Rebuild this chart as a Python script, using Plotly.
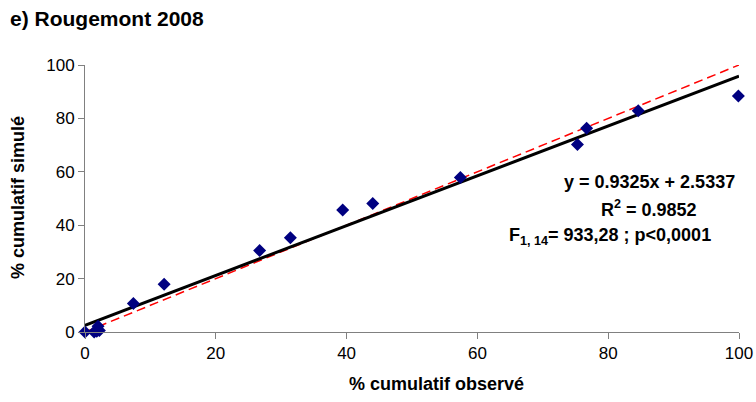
import plotly.graph_objects as go

# Observed vs simulated cumulative percentages
observe = [0, 1.4, 1.8, 2.0, 2.2, 7.4, 12.1, 26.7, 31.4, 39.4, 44.0, 57.4, 75.3, 76.7, 84.6, 99.9]
simule = [0, 0.0, 0.3, 2.2, 0.6, 10.7, 17.9, 30.5, 35.3, 45.7, 48.1, 57.9, 70.2, 76.3, 82.9, 88.4]

# Regression fit and 1:1 reference
pente = 0.9325
ordonnee = 2.5337
x_ligne = [0, 100]

tick_vals = [0, 20, 40, 60, 80, 100]

FONT = "Liberation Sans, Arial"

fig = go.Figure()

fig.add_trace(go.Scatter(
    x=x_ligne, y=x_ligne, mode="lines",
    line=dict(color="#ff0000", width=1.5, dash="9px,5px"),
    hoverinfo="skip", showlegend=False,
))
fig.add_trace(go.Scatter(
    x=x_ligne, y=[pente * v + ordonnee for v in x_ligne], mode="lines",
    line=dict(color="#000000", width=3),
    hoverinfo="skip", showlegend=False,
))
fig.add_trace(go.Scatter(
    x=observe, y=simule, mode="markers", cliponaxis=False,
    marker=dict(symbol="diamond", color="#000080", size=10),
    showlegend=False,
))

axis_common = dict(
    range=[0, 100], tickvals=tick_vals, showgrid=False, zeroline=False,
    showline=True, linecolor="#808080", linewidth=1, automargin=False,
    ticks="outside", ticklen=6, tickcolor="#808080",
    tickfont=dict(family=FONT, size=17, color="#000000"),
)

fig.update_layout(
    width=756, height=402,
    margin=dict(l=85, r=17, t=65, b=70),
    paper_bgcolor="white", plot_bgcolor="white",
    xaxis=dict(**axis_common),
    yaxis=dict(**axis_common),
)

# Pixel positions of the text blocks, converted to paper coordinates below
textes = [
    (8, 18, "<b>e) Rougemont 2008</b>", 21, "left", 0),
    (437, 384, "<b>% cumulatif observé</b>", 18, "center", 0),
    (18, 198, "<b>% cumulatif simulé</b>", 18, "center", -90),
    (737, 182, "<b>y = 0.9325x + 2.5337</b>", 18, "right", 0),
    (699, 208, "<b>R<sup>2</sup> = 0.9852</b>", 18, "right", 0),
    (713, 236, "<b>F<sub>1, 14</sub>= 933,28 ; p<0,0001</b>", 18, "right", 0),
]

pl, pr, pt, pb = 85, 17, 65, 70
pw, ph = 756 - pl - pr, 402 - pt - pb
for px, py, txt, size, anchor, angle in textes:
    fig.add_annotation(
        x=(px - pl) / pw, y=1 - (py - pt) / ph, xref="paper", yref="paper",
        text=txt, showarrow=False, textangle=angle,
        font=dict(family=FONT, size=size, color="#000000"),
        xanchor=anchor, yanchor="middle",
    )

fig.write_html("out.html")
